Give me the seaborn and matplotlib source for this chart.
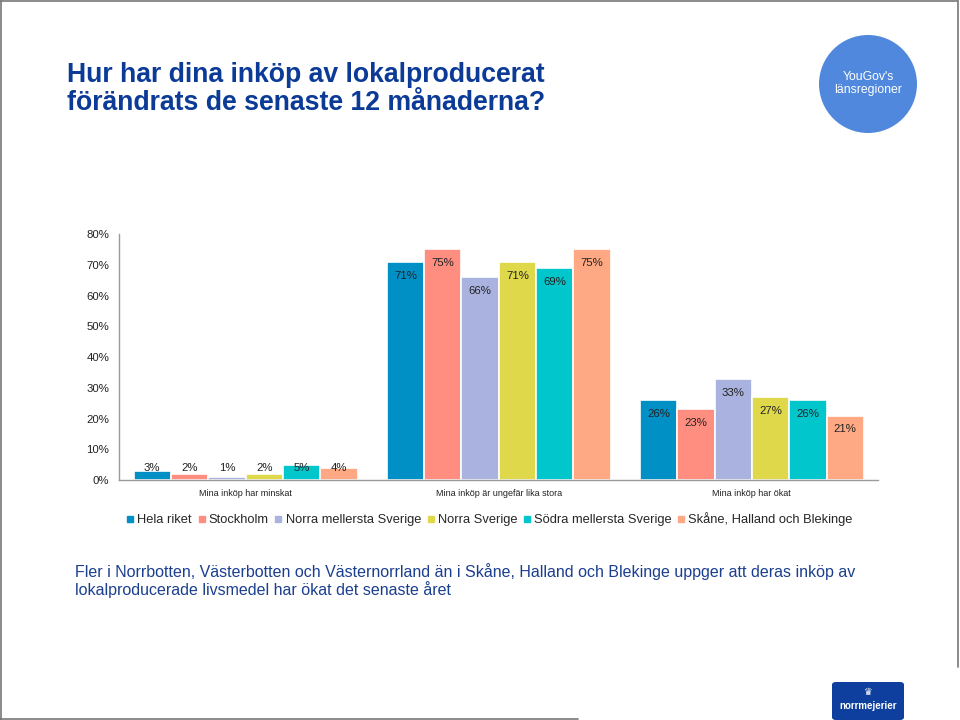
import matplotlib
matplotlib.use("Agg")
import matplotlib.pyplot as plt
from matplotlib.patches import Circle, FancyBboxPatch
from matplotlib.lines import Line2D
import seaborn as sns
import pandas as pd

categories = ["Mina inköp har minskat", "Mina inköp är ungefär lika stora", "Mina inköp har ökat"]
regions = ["Hela riket", "Stockholm", "Norra mellersta Sverige", "Norra Sverige",
           "Södra mellersta Sverige", "Skåne, Halland och Blekinge"]
hela_riket = [3, 71, 26]
stockholm = [2, 75, 23]
norra_mellersta = [1, 66, 33]
norra_sverige = [2, 71, 27]
sodra_mellersta = [5, 69, 26]
skane = [4, 75, 21]
colors = ["#0190C6", "#FF8D80", "#AAB3E0", "#E0D84B", "#01C6CB", "#FFA984"]
yticks = [0, 10, 20, 30, 40, 50, 60, 70, 80]

series = [hela_riket, stockholm, norra_mellersta, norra_sverige, sodra_mellersta, skane]
rows = []
for reg, vals in zip(regions, series):
    for cat, v in zip(categories, vals):
        rows.append({"kategori": cat, "region": reg, "andel": v / 100})
df = pd.DataFrame(rows)

sns.set_theme(style="white")
plt.rcParams["font.family"] = ["Liberation Sans", "DejaVu Sans"]

fig = plt.figure(figsize=(9.6, 7.2), dpi=100)
ax = fig.add_axes([0.124, 0.333, 0.791, 0.342])

sns.barplot(data=df, x="kategori", y="andel", hue="region", order=categories,
            hue_order=regions, palette=colors, width=0.885, edgecolor="white",
            linewidth=1.2, saturation=1, ax=ax, legend=False, errorbar=None)

ax.set_ylim(0, 0.8)
ax.set_xlim(-0.5, 2.5)
ax.set_yticks([t / 100 for t in yticks])
ax.set_yticklabels([f"{t}%" for t in yticks], fontsize=8.2, color="#222222")
ax.tick_params(axis="y", length=0, pad=7)
ax.tick_params(axis="x", length=0, pad=6, labelsize=6.5, labelcolor="#222222")
ax.set_xlabel("")
ax.set_ylabel("")
for s in ["top", "right"]:
    ax.spines[s].set_visible(False)
for s in ["left", "bottom"]:
    ax.spines[s].set_color("#9a9a9a")
    ax.spines[s].set_linewidth(1)

for cont in ax.containers:
    for bar in cont:
        h = bar.get_height()
        x = bar.get_x() + bar.get_width() / 2
        y = h - 0.045 if h > 0.1 else 0.04
        ax.text(x, y, f"{round(h * 100)}%", ha="center", va="center",
                fontsize=8.2, color="#222222")

handles = [Line2D([0], [0], marker="s", linestyle="", markersize=5,
                  markerfacecolor=c, markeredgecolor=c) for c in colors]
fig.legend(handles, regions, loc="center", bbox_to_anchor=(0.51, 0.279), ncol=6,
           frameon=False, fontsize=9.3, handlelength=0.6, handletextpad=0.25,
           columnspacing=0.45, borderaxespad=0)

# Title
title_col = "#0B3A97"
fig.text(0.070, 1 - 75 / 720, "Hur har dina inköp av lokalproducerat",
         ha="left", va="center", fontsize=19.2, fontweight="bold", color=title_col)
fig.text(0.070, 1 - 103 / 720, "förändrats de senaste 12 månaderna?",
         ha="left", va="center", fontsize=19.2, fontweight="bold", color=title_col)

# Bottom text
bcol = "#1B3F8F"
fig.text(0.078, 1 - 572 / 720, "Fler i Norrbotten, Västerbotten och Västernorrland än i Skåne, Halland och Blekinge uppger att deras inköp av",
         ha="left", va="center", fontsize=11.5, color=bcol)
fig.text(0.078, 1 - 590 / 720, "lokalproducerade livsmedel har ökat det senaste året",
         ha="left", va="center", fontsize=11.5, color=bcol)

# Circle
circ = Circle((8.68, 7.2 - 0.84), 0.49, transform=fig.dpi_scale_trans,
              facecolor="#4F88DC", edgecolor="none")
fig.patches.append(circ)
fig.text(868 / 960, 1 - 77 / 720, "YouGov's", ha="center", va="center",
         fontsize=8.8, color="white")
fig.text(868 / 960, 1 - 90 / 720, "länsregioner", ha="center", va="center",
         fontsize=8.8, color="white")

# Frame of slide
fcol = "#777777"
fig.add_artist(Line2D([0.001, 0.001], [0.0, 0.999], transform=fig.transFigure, color=fcol, lw=1.2))
fig.add_artist(Line2D([0.0, 0.998], [0.999, 0.999], transform=fig.transFigure, color=fcol, lw=1.2))
fig.add_artist(Line2D([0.998, 0.998], [1 - 667 / 720, 0.999], transform=fig.transFigure, color=fcol, lw=1.2))
fig.add_artist(Line2D([0.0, 578 / 960], [0.002, 0.002], transform=fig.transFigure, color=fcol, lw=1.2))

# Logo badge
logo = FancyBboxPatch((832 / 960, 0.0), 72 / 960, 38 / 720, boxstyle="round,pad=0,rounding_size=0.004",
                      transform=fig.transFigure, facecolor="#0E3E9E", edgecolor="none")
fig.patches.append(logo)
fig.text(868 / 960, 1 - 706 / 720, "norrmejerier", ha="center", va="center", fontsize=7,
         fontweight="bold", color="white")
fig.text(868 / 960, 1 - 692 / 720, "♛", ha="center", va="center", fontsize=7,
         color="white", family=["DejaVu Sans"])

fig.savefig("out.png", dpi=100, facecolor="white")
